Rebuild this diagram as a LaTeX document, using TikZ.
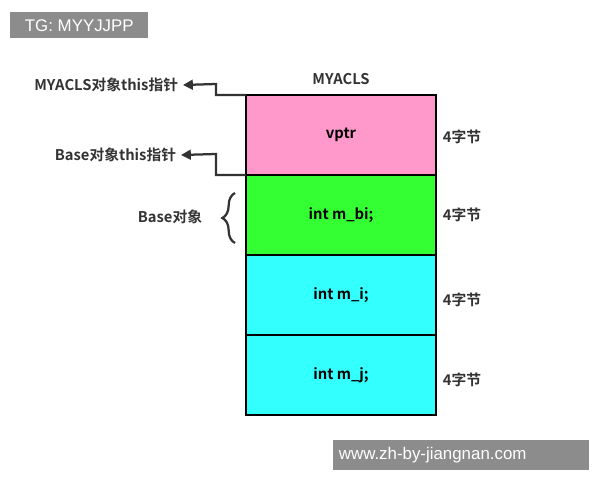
\documentclass[tikz,border=0pt]{standalone}
\usepackage{fontspec}
\setmainfont{Noto Sans CJK SC}[BoldFont={* Bold}]
\newfontfamily\wmfont{Liberation Sans}
\usetikzlibrary{positioning,decorations.pathreplacing,arrows.meta}
\definecolor{pinkc}{HTML}{FF99CC}
\definecolor{greenc}{HTML}{33FF33}
\definecolor{cyanc}{HTML}{33FFFF}
\definecolor{linec}{HTML}{333333}
\tikzset{
  cell/.style={draw=black, line width=1.4pt, outer sep=0pt, minimum width=4.75cm, minimum height=2cm, inner sep=0pt, font=\bfseries\fontsize{10.5}{12}\selectfont},
  lbl/.style={font=\bfseries\fontsize{10.5}{12}\selectfont, text=linec},
  ptr/.style={draw=linec, line width=1.6pt, -{Triangle[length=7pt,width=7pt]}},
  wmark/.style={fill=black!45, text=white, font=\wmfont\large, inner sep=4pt, anchor=north west}
}
\begin{document}
\begin{tikzpicture}[x=0.025cm,y=-0.025cm]
\useasboundingbox (0,0) rectangle (600,480);

\node [cell, fill=pinkc, anchor=north west] (vptr) at (246,95) {vptr};
\node [cell, fill=greenc, below=0pt of vptr] (mbi) {int m\_bi;};
\node [cell, fill=cyanc, below=0pt of mbi] (mi) {int m\_i;};
\node [cell, fill=cyanc, below=0pt of mi] (mj) {int m\_j;};
\node [lbl, above=4pt of vptr] (title) {MYACLS};

% sizes
\node [lbl] (s1) at (462,137) {4字节};
\node [lbl] (s2) at (462,215) {4字节};
\node [lbl] (s3) at (462,300) {4字节};
\node [lbl] (s4) at (462,380) {4字节};

% pointers
\node [lbl, anchor=east] (p1) at (183,85) {MYACLS对象this指针};
\node [lbl, anchor=east] (p2) at (181,155) {Base对象this指针};
\draw [ptr] (vptr.north west) -| (216,84) -- (p1.east);
\draw [ptr] (mbi.north west) -| (216,154) -- (p2.east);

% base part
\coordinate (bt) at (235,193);
\coordinate (bb) at (235,243);
\draw [linec, line width=1.6pt, decorate, decoration={brace, amplitude=9pt}] (bb) -- (bt);
\node [lbl, anchor=east] (base) at (207,217) {Base对象};

% watermarks
\node [wmark, minimum width=3.45cm, minimum height=0.65cm] (tg) at (10,12) {TG: MYYJJPP};
\node [wmark, text width=6.1cm, minimum height=0.75cm, align=left] (www) at (333,440) {www.zh-by-jiangnan.com};
\end{tikzpicture}
\end{document}
